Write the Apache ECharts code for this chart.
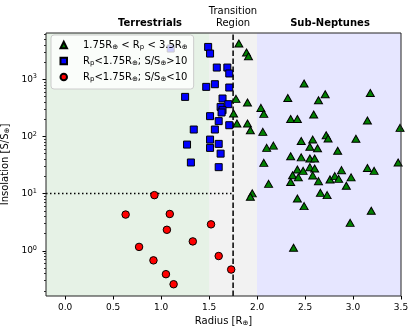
<!DOCTYPE html>
<html><head><meta charset="utf-8">
<script src="https://cdn.jsdelivr.net/npm/echarts@6/dist/echarts.min.js"></script>
<style>html,body{margin:0;padding:0;background:#fff}#c{width:416px;height:334px}</style>
</head><body><div id="c"></div>
<script>
// Radius [R_earth], Insolation [S/S_earth]
const subNeptunes = [
  [1.81,4210],[1.89,2930],[1.91,2520],[1.78,453],[1.90,392],[1.755,252],[1.79,168],[1.90,168],[1.93,128],[1.95,10.1],[1.93,8.8],
  [2.49,841],[2.32,471],[2.71,547],[2.64,430],[3.18,576],[2.04,315],[2.07,248],[2.35,202],[2.42,202],[2.59,242],[3.15,190],[3.49,141],
  [2.06,120],[2.46,83],[2.58,88],[2.72,105],[2.74,92],[3.03,91],[2.10,63],[2.17,69],[2.55,66],[2.63,62],[2.84,56],[2.07,34.5],
  [2.35,45],[2.46,43],[2.55,41],[2.60,41],[3.47,35],[3.15,28],[3.22,25],[2.55,29],[2.60,27.5],[2.42,26.4],[2.48,25],[2.37,21],
  [2.58,20.8],[2.43,19.2],[2.35,16],[2.64,16.5],[2.76,17.7],[2.81,20.2],[2.85,18.1],[2.88,25.7],[2.98,19.2],[2.93,13.7],[2.12,14.8],
  [2.66,10.3],[2.73,9.4],[2.42,8.2],[2.49,6.04],[3.19,5.0],[2.97,3.08],[2.38,1.13]
];
const terrHigh = [
  [1.10,3440],[1.49,3670],[1.51,2810],[1.58,1600],[1.69,1600],[1.71,1260],[1.47,735],[1.56,818],[1.71,716],[1.25,491],
  [1.64,460],[1.62,328],[1.70,366],[1.64,287],[1.63,262],[1.51,226],[1.60,185],[1.71,157],[1.34,132],[1.56,132],
  [1.51,88],[1.27,72],[1.51,63],[1.60,74],[1.62,50],[1.31,35],[1.60,29]
];
const terrLow = [
  [0.93,9.4],[0.63,4.3],[1.09,4.4],[1.52,2.9],[1.06,2.33],[1.33,1.46],[0.77,1.17],[1.60,0.81],[0.92,0.68],[1.73,0.47],[1.05,0.39],[1.13,0.26]
];
const seriesNames = ['tri', 'sq', 'cir'];
const legendLabels = [
  '1.75R{sub|⊕} < R{sub|p} < 3.5R{sub|⊕}',
  'R{sub|p}<1.75R{sub|⊕}; S/S{sub|⊕}>10',
  'R{sub|p}<1.75R{sub|⊕}; S/S{sub|⊕}<10'
];
const xTicks = [0, 0.5, 1, 1.5, 2, 2.5, 3, 3.5];
const yTickExp = [0, 1, 2, 3];
const xRange = [-0.2, 3.5];
const yRange = [0.162, 6430];
const regionBounds = [-0.2, 1.5, 2.0, 3.5];
const transitionX = 1.75;
const insolationCut = 10;

const FONT = 'DejaVu Sans';
const lg = v => Math.log10(v);
const yMin = lg(yRange[0]), yMax = lg(yRange[1]);
const toLog = arr => arr.map(p => [p[0], lg(p[1])]);
const minorY = [];
for (let n = -1; n <= 3; n++) for (let k = 2; k <= 9; k++) {
  const v = n + Math.log10(k);
  if (v > yMin && v < yMax) minorY.push(v);
}
const labelMap = {};
seriesNames.forEach((n, i) => labelMap[n] = legendLabels[i]);

const chart = echarts.init(document.getElementById('c'), null, {renderer: 'canvas'});
const baseY = {
  type: 'value', min: yMin, max: yMax, gridIndex: 0, position: 'left', offset: 0,
  splitLine: {show: false}, axisLine: {show: false, onZero: false}
};
const guide = (name, pts, style, z) => ({
  type: 'line', name: name, data: pts, symbol: 'none', showSymbol: false, silent: true, z: z,
  lineStyle: style, emphasis: {disabled: true}, clip: false
});
const option = {
  animation: false,
  textStyle: {fontFamily: FONT},
  grid: {left: 46, right: 15, top: 33, bottom: 38, outerBoundsMode: 'none', containLabel: false,
    show: true, borderColor: '#222', borderWidth: 1, backgroundColor: 'transparent', z: 3},
  xAxis: {
    type: 'value', min: xRange[0], max: xRange[1],
    splitLine: {show: false}, axisLine: {show: false, onZero: false},
    axisTick: {show: true, customValues: xTicks, length: 3.5, lineStyle: {color: '#000'}},
    axisLabel: {customValues: xTicks, formatter: v => v.toFixed(1), color: '#000', fontSize: 9, margin: 7, fontFamily: FONT},
    name: 'Radius [R{sub|⊕}]', nameLocation: 'middle', nameGap: 20,
    nameTextStyle: {color: '#000', fontSize: 10, fontFamily: FONT, rich: {sub: {fontSize: 7, verticalAlign: 'bottom', padding: [3, 0, 0, 0]}}}
  },
  yAxis: [
    Object.assign({}, baseY, {
      axisTick: {show: true, customValues: yTickExp, length: 3.5, lineStyle: {color: '#000'}},
      axisLabel: {customValues: yTickExp, formatter: v => '10{sup|' + Math.round(v) + '}', color: '#000', fontSize: 9, margin: 9, fontFamily: FONT,
        rich: {sup: {fontSize: 6.5, verticalAlign: 'top', padding: [0, 0, 5, 0]}}},
      name: 'Insolation [S/S{sub|⊕}]', nameLocation: 'middle', nameGap: 23, nameRotate: 90,
      nameTextStyle: {color: '#000', fontSize: 10, fontFamily: FONT, rich: {sub: {fontSize: 7, padding: [3, 0, 0, 0]}}}
    }),
    Object.assign({}, baseY, {
      axisTick: {show: true, customValues: minorY, length: 2, lineStyle: {color: '#000', width: 0.8}},
      axisLabel: {show: false}
    })
  ],
  legend: {
    data: seriesNames.map((n, i) => ({name: n, icon: ['triangle', 'rect', 'circle'][i]})),
    orient: 'vertical', left: 51, top: 35,
    itemWidth: 6.5, itemHeight: 6.5, itemGap: 2,
    padding: [3, 6, 5, 8.5],
    backgroundColor: 'rgba(255,255,255,0.8)', borderColor: '#ccc', borderWidth: 1, borderRadius: 3,
    formatter: n => labelMap[n],
    textStyle: {color: '#000', fontSize: 10, fontFamily: FONT, padding: [0, 0, 0, 11], lineHeight: 14,
      rich: {sub: {fontSize: 7, padding: [4, 0, 0, 0]}}},
    selectedMode: false, z: 10, zlevel: 1
  },
  graphic: [
    {type: 'text', x: 150, y: 23, z: 10, style: {text: 'Terrestrials', font: 'bold 10px "DejaVu Sans"', fill: '#000', align: 'center', verticalAlign: 'middle'}},
    {type: 'text', x: 233, y: 11.5, z: 10, style: {text: 'Transition', font: '10px "DejaVu Sans"', fill: '#000', align: 'center', verticalAlign: 'middle'}},
    {type: 'text', x: 233, y: 23, z: 10, style: {text: 'Region', font: '10px "DejaVu Sans"', fill: '#000', align: 'center', verticalAlign: 'middle'}},
    {type: 'text', x: 330, y: 23, z: 10, style: {text: 'Sub-Neptunes', font: 'bold 10px "DejaVu Sans"', fill: '#000', align: 'center', verticalAlign: 'middle'}}
  ],
  series: [
    {
      type: 'scatter', name: 'bg', data: [], z: -1, silent: true,
      markArea: {silent: true, label: {show: false}, data: [
        [{xAxis: regionBounds[0], itemStyle: {color: '#e6f2e6', borderWidth: 0}}, {xAxis: regionBounds[1]}],
        [{xAxis: regionBounds[1], itemStyle: {color: '#f2f2f2', borderWidth: 0}}, {xAxis: regionBounds[2]}],
        [{xAxis: regionBounds[2], itemStyle: {color: '#e6e6ff', borderWidth: 0}}, {xAxis: regionBounds[3]}]
      ]}
    },
    guide('edge1', [[regionBounds[1], yMin], [regionBounds[1], yMax]], {color: '#d3e8d3', width: 1, type: 'solid'}, 0),
    guide('edge2', [[regionBounds[2], yMin], [regionBounds[2], yMax]], {color: '#d6d6f5', width: 1, type: 'solid'}, 0),
    guide('transition', [[transitionX, yMin], [transitionX, yMax]], {color: '#000', width: 1.5, type: [5.5, 2.5]}, 1),
    guide('cut', [[xRange[0], lg(insolationCut)], [transitionX, lg(insolationCut)]], {color: '#000', width: 1.5, type: [1.5, 2.5]}, 1),
    {type: 'scatter', name: 'tri', data: toLog(subNeptunes), symbol: 'triangle', symbolSize: [8, 7], z: 2,
      itemStyle: {color: '#008000', borderColor: '#000', borderWidth: 1, opacity: 1}},
    {type: 'scatter', name: 'sq', data: toLog(terrHigh), symbol: 'rect', symbolSize: 7, z: 2,
      itemStyle: {color: '#0000ff', borderColor: '#000', borderWidth: 1, opacity: 1}},
    {type: 'scatter', name: 'cir', data: toLog(terrLow), symbol: 'circle', symbolSize: 7.5, z: 2,
      itemStyle: {color: '#ff0000', borderColor: '#000', borderWidth: 1, opacity: 1}}
  ]
};
chart.setOption(option);
</script>
</body></html>
